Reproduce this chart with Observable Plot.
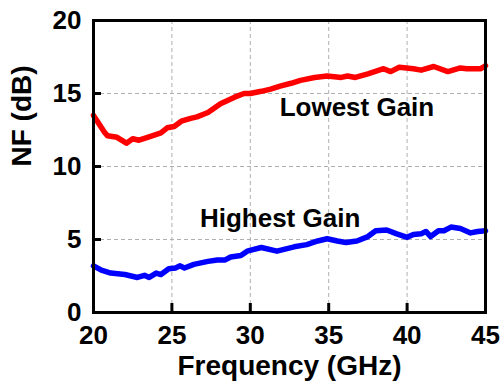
<!DOCTYPE html>
<html><head><meta charset="utf-8">
<script src="https://cdn.jsdelivr.net/npm/d3@7"></script>
<script src="https://cdn.jsdelivr.net/npm/@observablehq/plot@0.6"></script>
<style>body{margin:0;background:#fff}</style>
</head><body><div id="chart"></div>
<script>
const lowFreq = [20,20.7,20.9,21.5,22.1,22.5,22.9,23.45,24.3,24.7,25.15,25.6,26.2,26.6,27.3,28.1,29.0,29.6,30.0,30.7,31.3,31.9,32.6,33.2,34.1,34.9,35.8,36.2,36.7,37.5,38.5,38.95,39.5,40.4,40.9,41.7,42.6,43.4,43.8,44.7,45];
const lowNF = [13.5,12.35,12.1,12.0,11.6,11.9,11.8,12.0,12.3,12.65,12.74,13.1,13.3,13.4,13.7,14.3,14.75,15.0,15.0,15.15,15.3,15.5,15.7,15.9,16.1,16.2,16.1,16.2,16.1,16.35,16.7,16.5,16.8,16.7,16.6,16.85,16.5,16.75,16.7,16.7,16.9];
const highFreq = [20,20.5,21.1,22.0,22.8,23.25,23.55,24.0,24.3,24.8,25.25,25.5,25.8,26.4,27.3,27.9,28.4,28.75,29.4,29.8,30.7,31.7,32.8,33.6,34.3,34.9,35.55,36.1,36.8,37.5,38.0,38.7,39.3,40.0,40.4,40.9,41.2,41.5,42.0,42.35,42.8,43.4,44.05,44.5,45];
const highNF = [3.2,2.9,2.7,2.6,2.4,2.55,2.4,2.7,2.6,3.0,3.05,3.2,3.05,3.3,3.5,3.6,3.6,3.8,3.9,4.2,4.45,4.2,4.5,4.65,4.9,5.05,4.9,4.8,4.9,5.2,5.6,5.65,5.4,5.15,5.35,5.4,5.55,5.2,5.6,5.6,5.85,5.75,5.45,5.55,5.6];
const xTicks = [20,25,30,35,40,45];
const yTicks = [0,5,10,15,20];
const xLabel = "Frequency (GHz)";
const yLabel = "NF (dB)";
const labelText = ["Lowest Gain","Highest Gain"];
const labelX = [36.8,31.9];
const labelY = [14.0,6.4];

const low = lowFreq.map((f,i)=>({f, nf: lowNF[i]}));
const high = highFreq.map((f,i)=>({f, nf: highNF[i]}));
const labels = labelText.map((t,i)=>({t, x: labelX[i], y: labelY[i]}));

const font = "'Liberation Sans', Arial, sans-serif";
const chart = Plot.plot({
  width: 502, height: 383,
  marginLeft: 93, marginRight: 17, marginTop: 20, marginBottom: 71,
  style: {fontFamily: font, fontSize: "26px", fontWeight: "bold", color: "black", background: "white"},
  x: {domain: [20,45]},
  y: {domain: [0,20]},
  marks: [
    Plot.gridX(xTicks, {stroke: "#b0b0b0", strokeOpacity: 1, strokeDasharray: "4,3"}),
    Plot.gridY(yTicks, {stroke: "#b0b0b0", strokeOpacity: 1, strokeDasharray: "4,3"}),
    Plot.axisX(xTicks, {tickSize: -9, tickPadding: 22, strokeWidth: 3, fontSize: 26, label: null}),
    Plot.axisY(yTicks, {tickSize: -8, tickPadding: 20, strokeWidth: 3, fontSize: 26, label: null}),
    Plot.text([xLabel], {frameAnchor: "bottom", dy: 62, text: d => d, fontSize: 28, fontWeight: "bold", fill: "black"}),
    Plot.text([yLabel], {frameAnchor: "left", dx: -71, rotate: -90, text: d => d, fontSize: 28, fontWeight: "bold", fill: "black"}),
    Plot.line(low, {x: "f", y: "nf", stroke: "#ff0000", strokeWidth: 5.5, curve: "linear"}),
    Plot.line(high, {x: "f", y: "nf", stroke: "#0000ff", strokeWidth: 5.5, curve: "linear"}),
    Plot.text(labels, {x: "x", y: "y", text: "t", fontSize: 26, fontWeight: "bold", fill: "black"}),
    Plot.frame({stroke: "black", strokeWidth: 3})
  ]
});
document.getElementById("chart").appendChild(chart);
</script></body></html>
